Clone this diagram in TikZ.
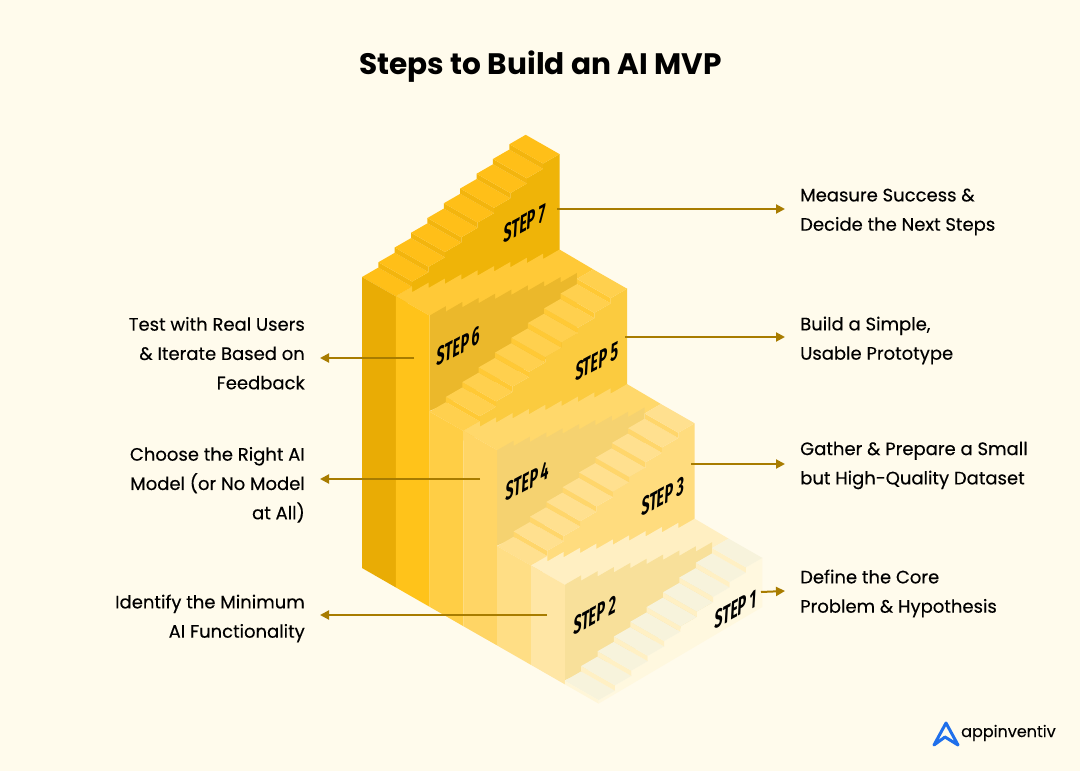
\documentclass[tikz,border=0pt]{standalone}
\usepackage{fontspec}
\setmainfont{Poppins}
\newfontfamily\titlefont{Poppins}
\newfontfamily\labelfont[FakeBold=0.3]{Poppins}
\newfontfamily\logofont[FakeBold=0.15]{Poppins}
\newfontfamily\stepfont[FakeStretch=0.55]{Fira Sans}
\definecolor{bgc}{HTML}{FFFBEC}
\definecolor{linec}{HTML}{A87C00}
\definecolor{blue1}{HTML}{1F6FEB}
\definecolor{c7t}{HTML}{FFBF18}\definecolor{c7r}{HTML}{F3B50E}\definecolor{c7f}{HTML}{EFB408}\definecolor{c7b}{HTML}{E9AC05}
\definecolor{c6s}{HTML}{FFC937}\definecolor{c6f}{HTML}{EBB82B}\definecolor{c6b}{HTML}{FFC31A}
\definecolor{c5t}{HTML}{FFD04E}\definecolor{c5r}{HTML}{FFC935}\definecolor{c5f}{HTML}{FBCB3F}\definecolor{c5b}{HTML}{FFCE45}
\definecolor{c4s}{HTML}{FFD86B}\definecolor{c4f}{HTML}{F5D270}\definecolor{c4b}{HTML}{FFD565}
\definecolor{c3t}{HTML}{FFE08F}\definecolor{c3r}{HTML}{FFD66B}\definecolor{c3f}{HTML}{FFDC7E}\definecolor{c3b}{HTML}{FFDE85}
\definecolor{c2s}{HTML}{FFEFC2}\definecolor{c2f}{HTML}{F8E09A}\definecolor{c2b}{HTML}{FFE6A5}
\definecolor{c1t}{HTML}{F7F3DC}\definecolor{c1r}{HTML}{FFF0C4}\definecolor{c1f}{HTML}{FFF8DF}\definecolor{c1b}{HTML}{FFF6D8}
\usetikzlibrary{arrows.meta}
\tikzset{
  connector/.style={draw=linec,line width=2pt,-{Triangle[length=9pt,width=9pt]}},
  rlabel/.style={font=\labelfont\fontsize{18pt}{29.3pt}\selectfont,align=left,anchor=west,inner sep=0pt,text=black},
  llabel/.style={font=\labelfont\fontsize{18pt}{29.3pt}\selectfont,align=right,anchor=east,inner sep=0pt,text=black},
  steptext/.style={font=\stepfont\bfseries\fontsize{26pt}{26pt}\selectfont,inner sep=0pt,transform shape,cm={1,0.54,0.06,1,(0,0)},text=black},
}
% band on the left wall: x, top y, bottom y left, bottom y right, colour
\newcommand{\wallband}[5]{\fill[#5] (#1,#2) -- ++(33.8,19.3) -- ({#1+33.8},#4) -- (#1,#3) -- cycle;}
% stair flight: tread, riser, face colours, face bottom right, face bottom left
\newcommand{\flight}[5]{%
  \fill[#3] (395.8,296.3) \foreach \k in {0,...,8} { -- ++(16.37,-9.45) -- ++(0,-5.3) } -- ++(16.37,-9.45) -- (559.5,#4) -- (395.8,#5) -- cycle;
  \foreach \k in {0,...,9} {
    \pgfmathsetmacro\px{362+\k*16.37}
    \pgfmathsetmacro\py{277-\k*14.75}
    \fill[#1] (\px,\py) -- ++(16.37,-9.45) -- ++(33.8,19.3) -- ++(-16.37,9.45) -- cycle;
    \ifnum\k<9
      \fill[#2] (\px+16.37,\py-9.45) -- ++(0,-5.3) -- ++(33.8,19.3) -- ++(0,5.3) -- cycle;
    \fi
  }%
}
% landing strip and its inner side: strip colour, side colour
\newcommand{\landing}[2]{%
  \fill[#1] (395.8,296.3) \foreach \k in {0,...,8} { -- ++(16.37,-9.45) -- ++(0,5.3) } -- ++(16.37,-9.45) -- (593.3,269.4) -- (576.9,278.9) -- (429.6,315.6) -- cycle;
  \fill[#2] (429.6,315.6) \foreach \k in {0,...,8} { -- ++(16.37,-9.45) -- ++(0,5.3) } -- (577,345) -- (429.6,411) -- cycle;
}
\begin{document}
\begin{tikzpicture}[x=1pt,y=-1pt]
\useasboundingbox (0,0) rectangle (1080,771);
\fill[bgc] (0,0) rectangle (1080,771);

\node[font=\titlefont\bfseries\fontsize{29.6pt}{31pt}\selectfont,inner sep=0pt] (title) at (540.5,67) {Steps to Build an AI MVP};

% step 7 / 6
\flight{c7t}{c7r}{c7f}{254}{306}
\wallband{362}{277}{568}{587.4}{c7b}
\landing{c6s}{c6f}
\wallband{395.8}{296.3}{587.4}{606.8}{c6b}
% step 5 / 4
\begin{scope}[shift={(67.6,134.6)}]
\flight{c5t}{c5r}{c5f}{254}{306}
\end{scope}
\wallband{429.6}{411.6}{606.8}{626.2}{c5b}
\begin{scope}[shift={(67.6,134.6)}]
\landing{c4s}{c4f}
\end{scope}
\wallband{463.4}{430.9}{626.2}{645.5}{c4b}
% step 3 / 2
\begin{scope}[shift={(135.2,269.2)}]
\flight{c3t}{c3r}{c3f}{254}{306}
\end{scope}
\wallband{497.2}{546.2}{645.5}{664.9}{c3b}
\begin{scope}[shift={(135.2,269.2)}]
\landing{c2s}{c2f}
\end{scope}
\wallband{531}{565.5}{664.9}{684.3}{c2b}
% step 1
\begin{scope}[shift={(202.8,403.8)}]
\flight{c1t}{c1r}{c1f}{203.2}{299.8}
\end{scope}
\wallband{564.8}{680.8}{684.3}{703.6}{c1b}

\node[steptext] (s7) at (525,223) {STEP 7};
\node[steptext] (s6) at (459,346) {STEP 6};
\node[steptext] (s5) at (597,361) {STEP 5};
\node[steptext] (s4) at (528,481) {STEP 4};
\node[steptext] (s3) at (663,496) {STEP 3};
\node[steptext] (s2) at (595,615) {STEP 2};
\node[steptext] (s1) at (736,609) {STEP 1};

\node[rlabel] (l7) at (800,212) {Measure Success \&\\Decide the Next Steps};
\node[rlabel] (l5) at (800,340.5) {Build a Simple,\\Usable Prototype};
\node[rlabel] (l3) at (800,465.5) {Gather \& Prepare a Small\\but High-Quality Dataset};
\node[rlabel] (l1) at (800,593.5) {Define the Core\\Problem \& Hypothesis};
\node[llabel] (l6) at (305,353.2) {Test with Real Users\\\& Iterate Based on\\Feedback};
\node[llabel] (l4) at (305,484.8) {Choose the Right AI\\Model (or No Model\\at All)};
\node[llabel] (l2) at (305,618.5) {Identify the Minimum\\AI Functionality};

\coordinate (a7) at (557,209); \coordinate (b7) at (785,209);
\coordinate (a5) at (625,337); \coordinate (b5) at (785,337);
\coordinate (a3) at (691,464); \coordinate (b3) at (785,464);
\coordinate (a1) at (761,592); \coordinate (b1) at (785,591);
\coordinate (a6) at (414,358); \coordinate (b6) at (320,358);
\coordinate (a4) at (480,479); \coordinate (b4) at (320,479);
\coordinate (a2) at (547,615); \coordinate (b2) at (320,615);
\foreach \n in {7,5,3,1,6,4,2} \draw[connector] (a\n) -- (b\n);

% logo
\draw[blue1,line width=3pt,line join=round,line cap=round] (934,745) -- (946,723) -- (958,745) -- (945,737) -- cycle;
\node[font=\logofont\fontsize{16pt}{16pt}\selectfont,anchor=west,inner sep=0pt,text=black] (logo) at (961,733) {appinventiv};
\end{tikzpicture}
\end{document}
